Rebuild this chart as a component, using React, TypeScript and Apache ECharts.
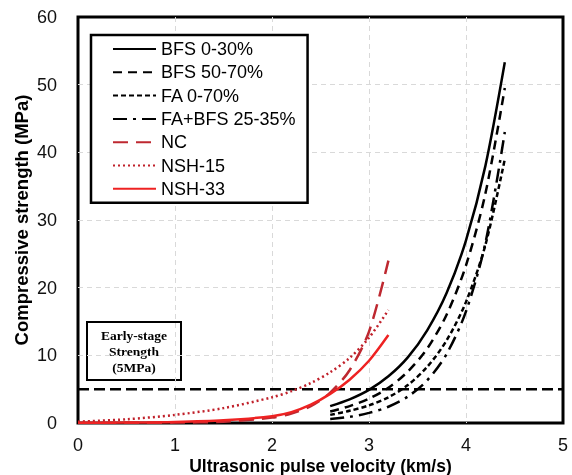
import React, { useEffect, useRef } from "react";
import * as echarts from "echarts";

// pulse velocity (km/s) for the black fitted curves
const blackVelocity = [2.6, 2.8, 3.0, 3.2, 3.4, 3.6, 3.8, 4.0, 4.2, 4.4];
const bfs0to30 = [2.5, 3.5, 4.9, 6.9, 9.7, 13.7, 19.2, 27.0, 38.0, 53.3];
const bfs50to70 = [1.7, 2.5, 3.6, 5.2, 7.6, 11.0, 16.0, 23.3, 33.9, 49.5];
const fa0to70 = [1.2, 1.8, 2.6, 3.8, 5.6, 8.3, 12.2, 17.9, 26.3, 39.0];
const faBfs25to35 = [0.6, 0.9, 1.5, 2.4, 3.9, 6.3, 10.2, 16.5, 26.6, 43.0];

// pulse velocity (km/s) for the red curves
const redVelocity = [0, 0.5, 1.0, 1.5, 2.0, 2.2, 2.4, 2.6, 2.8, 3.0, 3.2];
const nc = [0, 0.02, 0.06, 0.2, 0.8, 1.4, 2.5, 4.5, 7.8, 13.5, 24.0];
const nsh15 = [0.2, 0.55, 1.2, 2.2, 3.8, 4.7, 5.9, 7.5, 9.6, 12.6, 16.7];
const nsh33 = [0.02, 0.06, 0.15, 0.4, 1.0, 1.6, 2.7, 4.3, 6.4, 9.2, 13.0];

const earlyStageStrength = 5;
const velocityRange = [0, 5];
const strengthRange = [0, 60];

const legendNames = [
  "BFS 0-30%",
  "BFS 50-70%",
  "FA 0-70%",
  "FA+BFS 25-35%",
  "NC",
  "NSH-15",
  "NSH-33",
];

const pairs = (xs: number[], ys: number[]) => xs.map((x, i) => [x, ys[i]]);

const App: React.FC = () => {
  const chartRef = useRef<HTMLDivElement>(null);

  useEffect(() => {
    if (!chartRef.current) return;
    const chart = echarts.init(chartRef.current, undefined, { renderer: "svg" });

    const curve = (
      name: string,
      xs: number[],
      ys: number[],
      color: string,
      type: any,
      width = 2.5
    ) => ({
      name,
      type: "line",
      data: pairs(xs, ys),
      smooth: 0.3,
      symbol: "none",
      lineStyle: { color, width, type },
      itemStyle: { color },
    });

    const gridLine = {
      show: true,
      showMinLine: false,
      showMaxLine: false,
      lineStyle: { color: "#d9d9d9", type: [5, 4], width: 1 },
    };

    const option = {
      animation: false,
      grid: {
        left: 78,
        right: 9,
        top: 17,
        bottom: 52,
        outerBoundsMode: "none",
        show: true,
        borderColor: "#000",
        borderWidth: 3,
      },
      xAxis: {
        type: "value",
        min: velocityRange[0],
        max: velocityRange[1],
        interval: 1,
        name: "Ultrasonic pulse velocity (km/s)",
        nameLocation: "middle",
        nameMoveOverlap: false,
        nameGap: 34,
        nameTextStyle: {
          fontSize: 17.5,
          fontWeight: "bold",
          color: "#000",
          fontFamily: "Liberation Sans, Arial",
        },
        axisLine: { show: false },
        axisTick: { show: false },
        axisLabel: {
          fontSize: 18,
          color: "#111",
          margin: 13,
          fontFamily: "Liberation Sans, Arial",
        },
        splitLine: gridLine,
      },
      yAxis: {
        type: "value",
        min: strengthRange[0],
        max: strengthRange[1],
        interval: 10,
        name: "Compressive strength (MPa)",
        nameLocation: "middle",
        nameMoveOverlap: false,
        nameGap: 47,
        nameTextStyle: {
          fontSize: 18.5,
          fontWeight: "bold",
          color: "#000",
          fontFamily: "Liberation Sans, Arial",
        },
        axisLine: { show: false },
        axisTick: { show: false },
        axisLabel: {
          fontSize: 18,
          color: "#111",
          margin: 21,
          fontFamily: "Liberation Sans, Arial",
        },
        splitLine: gridLine,
      },
      legend: {
        orient: "vertical",
        left: 91,
        top: 35,
        itemWidth: 43,
        itemHeight: 14,
        itemGap: 5.3,
        padding: [5, 12, 5, 21],
        borderColor: "#000",
        borderWidth: 2.5,
        backgroundColor: "#fff",
        itemStyle: { opacity: 0 },
        textStyle: {
          fontSize: 18,
          color: "#000",
          fontFamily: "Liberation Sans, Arial",
        },
        data: legendNames,
      },
      graphic: [
        {
          type: "group",
          left: 86,
          top: 321,
          z: 100,
          children: [
            {
              type: "rect",
              shape: { x: 0, y: 0, width: 94, height: 58 },
              style: { fill: "#fff", stroke: "#000", lineWidth: 2 },
            },
            {
              type: "text",
              x: 47,
              y: 29,
              style: {
                text: "Early-stage\nStrength\n(5MPa)",
                fontSize: 13.5,
                fontWeight: "bold",
                fontFamily: "Liberation Serif, Times New Roman",
                align: "center",
                verticalAlign: "middle",
                lineHeight: 16,
                fill: "#000",
              },
            },
          ],
        },
      ],
      series: [
        {
          name: "threshold",
          type: "line",
          data: [
            [velocityRange[0], earlyStageStrength],
            [velocityRange[1], earlyStageStrength],
          ],
          symbol: "none",
          silent: true,
          lineStyle: { color: "#000", width: 2.5, type: [11, 5] },
        },
        curve("BFS 0-30%", blackVelocity, bfs0to30, "#000", "solid"),
        curve("BFS 50-70%", blackVelocity, bfs50to70, "#000", [9, 6]),
        curve("FA 0-70%", blackVelocity, fa0to70, "#000", [5, 3]),
        curve("FA+BFS 25-35%", blackVelocity, faBfs25to35, "#000", [14, 6, 3, 6]),
        curve("NC", redVelocity, nc, "#be2830", [15, 8]),
        curve("NSH-15", redVelocity, nsh15, "#c0202a", [2, 3]),
        curve("NSH-33", redVelocity, nsh33, "#ee2222", "solid"),
      ],
    };

    chart.setOption(option);
    return () => {
      chart.dispose();
    };
  }, []);

  return (
    <div
      ref={chartRef}
      style={{ position: "fixed", left: 0, top: 0, width: 572, height: 475 }}
    />
  );
};

export default App;
